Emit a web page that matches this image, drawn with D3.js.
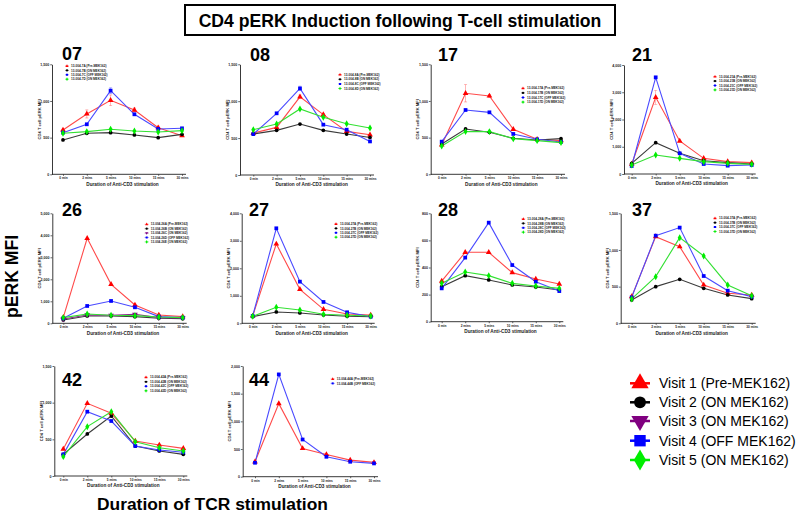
<!DOCTYPE html>
<html><head><meta charset="utf-8">
<script src="https://cdn.jsdelivr.net/npm/d3@7"></script>
<style>
html,body{margin:0;padding:0;background:#fff;}
svg{display:block;font-family:"Liberation Sans",Arial,Helvetica,sans-serif;}
</style></head>
<body><svg id="c" width="800" height="515"></svg>
<script>
// ---------- DATA ----------
const categories = ["0 min","2 mins","5 mins","10 mins","15 mins","30 mins"];
const panelNames = ["07","08","17","21","26","27","28","37","42","44"];
const panelYMax  = [1500,1500,1500,4000,5000,4000,800,1500,1500,2000];
const panelYStep = [500,500,500,1000,1000,1000,200,500,500,500];
const visitLabels = ["Visit 1 (Pre-MEK162)","Visit 2 (ON MEK162)","Visit 3 (ON MEK162)","Visit 4 (OFF MEK162)","Visit 5 (ON MEK162)"];

const p07 = [
 {visit:1, name:"13-004-7A (Pre-MEK162)", values:[605,823,1009,877,636,527], err:[0,55,73,27,20,0]},
 {visit:2, name:"13-004-7B (ON MEK162)",  values:[468,559,568,536,500,545]},
 {visit:4, name:"13-004-7C (OFF MEK162)", values:[568,682,1141,818,618,627], err:[0,0,39,0,0,0]},
 {visit:5, name:"13-004-7D (ON MEK162)",  values:[559,582,614,591,577,595]}];
const p08 = [
 {visit:1, name:"13-004-8A (Pre-MEK162)", values:[568,645,1059,818,591,545], err:[0,20,25,15,0,0]},
 {visit:2, name:"13-004-8B (ON MEK162)",  values:[555,605,691,605,555,509]},
 {visit:4, name:"13-004-8C (OFF MEK162)", values:[555,836,1173,682,614,455], err:[0,0,30,0,0,0]},
 {visit:5, name:"13-004-8D (ON MEK162)",  values:[614,691,895,782,695,636]}];
const p17 = [
 {visit:1, name:"13-004-17A (Pre-MEK162)", values:[400,1105,1068,614,477,459], err:[0,118,20,0,15,0]},
 {visit:2, name:"13-004-17B (ON MEK162)",  values:[414,618,573,491,468,486]},
 {visit:4, name:"13-004-17C (OFF MEK162)", values:[445,877,845,550,477,441]},
 {visit:5, name:"13-004-17D (ON MEK162)",  values:[386,582,582,486,459,432]}];
const p21 = [
 {visit:1, name:"13-004-21A (Pre-MEK162)", values:[367,2813,1211,575,453,416], err:[0,257,0,0,0,0]},
 {visit:2, name:"13-004-21B (ON MEK162)",  values:[391,1150,758,489,416,367]},
 {visit:4, name:"13-004-21C (OFF MEK162)", values:[294,3547,758,367,306,330]},
 {visit:5, name:"13-004-21D (ON MEK162)",  values:[330,697,575,453,391,355]}];
const p26 = [
 {visit:1, name:"13-004-26A (Pre-MEK162)", values:[273,3864,1773,833,379,303]},
 {visit:2, name:"13-004-26B (ON MEK162)",  values:[152,333,333,303,227,212]},
 {visit:3, name:"13-004-26C (ON MEK162)",  values:[197,379,364,409,258,242]},
 {visit:4, name:"13-004-26D (OFF MEK162)", values:[227,788,1015,727,303,258]},
 {visit:5, name:"13-004-26E (ON MEK162)",  values:[258,424,364,348,288,258]}];
const p27 = [
 {visit:1, name:"13-004-27A (Pre-MEK162)", values:[267,2885,1236,509,339,303]},
 {visit:2, name:"13-004-27B (ON MEK162)",  values:[242,412,376,303,255,242]},
 {visit:4, name:"13-004-27C (OFF MEK162)", values:[267,3455,1515,776,400,242]},
 {visit:5, name:"13-004-27D (ON MEK162)",  values:[255,582,485,327,291,267]}];
const p28 = [
 {visit:1, name:"13-004-28A (Pre-MEK162)", values:[300,512,512,362,315,278]},
 {visit:2, name:"13-004-28B (ON MEK162)",  values:[258,340,308,271,256,234]},
 {visit:4, name:"13-004-28C (OFF MEK162)", values:[246,473,731,418,295,226]},
 {visit:5, name:"13-004-28D (ON MEK162)",  values:[283,367,340,283,263,246]}];
const p37 = [
 {visit:1, name:"13-004-37A (Pre-MEK162)", values:[364,1182,1045,523,409,386]},
 {visit:2, name:"13-004-37B (ON MEK162)",  values:[318,500,600,477,386,336]},
 {visit:4, name:"13-004-37C (OFF MEK162)", values:[355,1195,1305,645,445,364]},
 {visit:5, name:"13-004-37D (ON MEK162)",  values:[332,636,1168,918,523,377]}];
const p42 = [
 {visit:1, name:"13-004-42A (Pre-MEK162)", values:[368,991,855,477,423,377]},
 {visit:2, name:"13-004-42B (ON MEK162)",  values:[295,573,818,409,341,295]},
 {visit:4, name:"13-004-42C (OFF MEK162)", values:[295,877,750,409,355,323]},
 {visit:5, name:"13-004-42D (ON MEK162)",  values:[264,673,877,468,386,341]}];
const p44 = [
 {visit:1, name:"13-004-44A (Pre-MEK162)", values:[270,1320,510,402,300,258]},
 {visit:4, name:"13-004-44B (OFF MEK162)", values:[252,1848,672,360,270,240]}];
const panelSeries = [p07,p08,p17,p21,p26,p27,p28,p37,p42,p44];

// ---------- LAYOUT / STYLE ----------
const layout = [
 {ax:52,   by:174.3, ty:64.3,  xs:63,    xe:182,   tx:62,  tb:59.8, lx:67,    ly:66,    ls:4.4},
 {ax:240,  by:175,   ty:64.3,  xs:253.3, xe:370,   tx:250, tb:60.7, lx:340,   ly:74.7,  ls:4.6},
 {ax:430.7,by:174.3, ty:64.3,  xs:441.7, xe:561,   tx:438, tb:60.7, lx:523,   ly:88.3,  ls:4.6},
 {ax:624,  by:174,   ty:65,    xs:631.7, xe:751.7, tx:632, tb:60.7, lx:715,   ly:76.7,  ls:4.4},
 {ax:52.3, by:323.3, ty:213.3, xs:63.3,  xe:182.7, tx:62,  tb:215.7,lx:146.7, ly:224.3, ls:4.4},
 {ax:241.7,by:323.3, ty:213.3, xs:252.7, xe:370.7, tx:249, tb:215.7,lx:336,   ly:224,   ls:4.4},
 {ax:430.7,by:321.7, ty:213.3, xs:441.7, xe:559.3, tx:438, tb:215.7,lx:523.3, ly:219,   ls:4.4},
 {ax:620.7,by:323.3, ty:213.3, xs:631.7, xe:751.7, tx:632, tb:215.7,lx:715,   ly:218.3, ls:4.4},
 {ax:54.3, by:476,   ty:366,   xs:63.3,  xe:183.3, tx:62,  tb:386,  lx:146,   ly:377.3, ls:4.5},
 {ax:242.7,by:476.7, ty:366,   xs:255,   xe:374,   tx:249, tb:386,  lx:332.7, ly:379,   ls:4.4}
];
const markColor = {1:"#ff0000",2:"#000000",3:"#800080",4:"#0000ff",5:"#00ee00"};
const lineColor = {1:"#ff4a4a",2:"#3a3a3a",3:"#8a2a8a",4:"#4a4aff",5:"#33e033"};
const symType = {1:d3.symbolTriangle,2:d3.symbolCircle,3:d3.symbolTriangle,4:d3.symbolSquare,5:d3.symbolDiamond};
const symRot = {1:0,2:0,3:180,4:0,5:0};
const FONT = '"Liberation Sans",Arial,Helvetica,sans-serif';

const svg = d3.select("#c");
svg.append("rect").attr("width",800).attr("height",515).attr("fill","#fff");

// Title box
svg.append("rect").attr("x",185).attr("y",5).attr("width",430).attr("height",30)
  .attr("fill","#fff").attr("stroke","#000").attr("stroke-width",2);
svg.append("text").attr("x",400).attr("y",26.7).attr("text-anchor","middle")
  .attr("font-size",17.6).attr("font-weight","bold").text("CD4 pERK Induction following T-cell stimulation");

// Global axis titles
svg.append("text").attr("transform","translate(17.5,276.5) rotate(-90)").attr("text-anchor","middle")
  .attr("font-size",17.6).attr("font-weight","bold").text("pERK MFI");
svg.append("text").attr("x",97).attr("y",509.5)
  .attr("font-size",17.4).attr("font-weight","bold").text("Duration of TCR stimulation");

function sym(v, size){
  return d3.symbol().type(symType[v]).size(size)();
}

panelSeries.forEach((series, i) => {
  const L = layout[i];
  const g = svg.append("g");
  const x = d3.scalePoint().domain(categories).range([L.xs, L.xe]);
  const y = d3.scaleLinear().domain([0, panelYMax[i]]).range([L.by, L.ty]);

  // y axis
  const ya = g.append("g").attr("transform",`translate(${L.ax},0)`)
    .call(d3.axisLeft(y).tickValues(d3.range(0, panelYMax[i]+1, panelYStep[i]))
      .tickFormat(d3.format(",")).tickSize(1.8).tickSizeOuter(0).tickPadding(1));
  ya.select(".domain").attr("stroke","#222").attr("stroke-width",0.9);
  ya.selectAll(".tick line").attr("stroke","#222").attr("stroke-width",0.7);
  ya.selectAll(".tick text").attr("font-size",3.6).attr("font-weight","bold").attr("font-family",FONT).attr("fill","#222");

  // x axis
  const xa = g.append("g").attr("transform",`translate(0,${L.by})`)
    .call(d3.axisBottom(x).tickSize(1.5).tickSizeOuter(0).tickPadding(1.2));
  xa.select(".domain").remove();
  xa.append("line").attr("x1",L.ax).attr("x2",L.xe+4).attr("y1",0).attr("y2",0)
    .attr("stroke","#222").attr("stroke-width",0.9);
  xa.selectAll(".tick line").attr("stroke","#222").attr("stroke-width",0.7);
  xa.selectAll(".tick text").attr("font-size",3.2).attr("font-weight","bold").attr("font-family",FONT).attr("fill","#222");

  // axis titles
  g.append("text").attr("x",(L.xs+L.xe)/2).attr("y",L.by+11.2).attr("text-anchor","middle")
    .attr("font-size",4.7).attr("font-weight","bold").attr("fill","#222").text("Duration of Anti-CD3 stimulation");
  g.append("text").attr("transform",`translate(${L.ax-11.5},${(L.by+L.ty)/2}) rotate(-90)`)
    .attr("text-anchor","middle").attr("font-size",4.1).attr("font-weight","bold").attr("fill","#222")
    .text("CD4 T cell pERK MFI");

  // panel title
  g.append("text").attr("x",L.tx).attr("y",L.tb).attr("font-size",18).attr("font-weight","bold").text(panelNames[i]);

  const line = d3.line().x((d,k)=>x(categories[k])).y(d=>y(d));
  series.forEach(s => {
    g.append("path").attr("d", line(s.values)).attr("fill","none")
      .attr("stroke", lineColor[s.visit]).attr("stroke-width",1.1);
    if (s.err) {
      s.err.forEach((e,k) => {
        if (!e) return;
        const cx = x(categories[k]);
        const y1 = y(s.values[k]-e), y2 = y(s.values[k]+e);
        g.append("line").attr("x1",cx).attr("x2",cx).attr("y1",y1).attr("y2",y2)
          .attr("stroke",lineColor[s.visit]).attr("stroke-width",0.6).attr("opacity",0.7);
        [y1,y2].forEach(yy => g.append("line").attr("x1",cx-1.5).attr("x2",cx+1.5).attr("y1",yy).attr("y2",yy)
          .attr("stroke",lineColor[s.visit]).attr("stroke-width",0.6).attr("opacity",0.7));
      });
    }
  });
  series.forEach(s => {
    g.selectAll(null).data(s.values).enter().append("path")
      .attr("d", sym(s.visit, s.visit===2?11:14))
      .attr("transform",(d,k)=>`translate(${x(categories[k])},${y(d)}) rotate(${symRot[s.visit]})`)
      .attr("fill", markColor[s.visit]);
  });

  // mini legend
  series.forEach((s,j) => {
    const yy = L.ly + j*L.ls;
    g.append("line").attr("x1",L.lx-2).attr("x2",L.lx+2).attr("y1",yy).attr("y2",yy)
      .attr("stroke",lineColor[s.visit]).attr("stroke-width",0.6);
    g.append("path").attr("d", sym(s.visit,4))
      .attr("transform",`translate(${L.lx},${yy}) rotate(${symRot[s.visit]})`).attr("fill",markColor[s.visit]);
    g.append("text").attr("x",L.lx+4).attr("y",yy+1.1).attr("font-size",3.1).attr("font-weight","bold")
      .attr("fill","#222").text(s.name);
  });
});

// Big legend
const legRows = [383.3, 402.3, 421, 440.7, 460];
visitLabels.forEach((t,k) => {
  const v = k+1, yy = legRows[k];
  svg.append("line").attr("x1",630).attr("x2",650).attr("y1",yy).attr("y2",yy)
    .attr("stroke",markColor[v]).attr("stroke-width",2.5);
  svg.append("path").attr("d", sym(v, v===2?110:130))
    .attr("transform",`translate(640,${yy}) rotate(${symRot[v]})`).attr("fill",markColor[v]);
  svg.append("text").attr("x",659).attr("y",yy+5).attr("font-size",14).attr("fill","#000").text(t);
});
</script></body></html>
